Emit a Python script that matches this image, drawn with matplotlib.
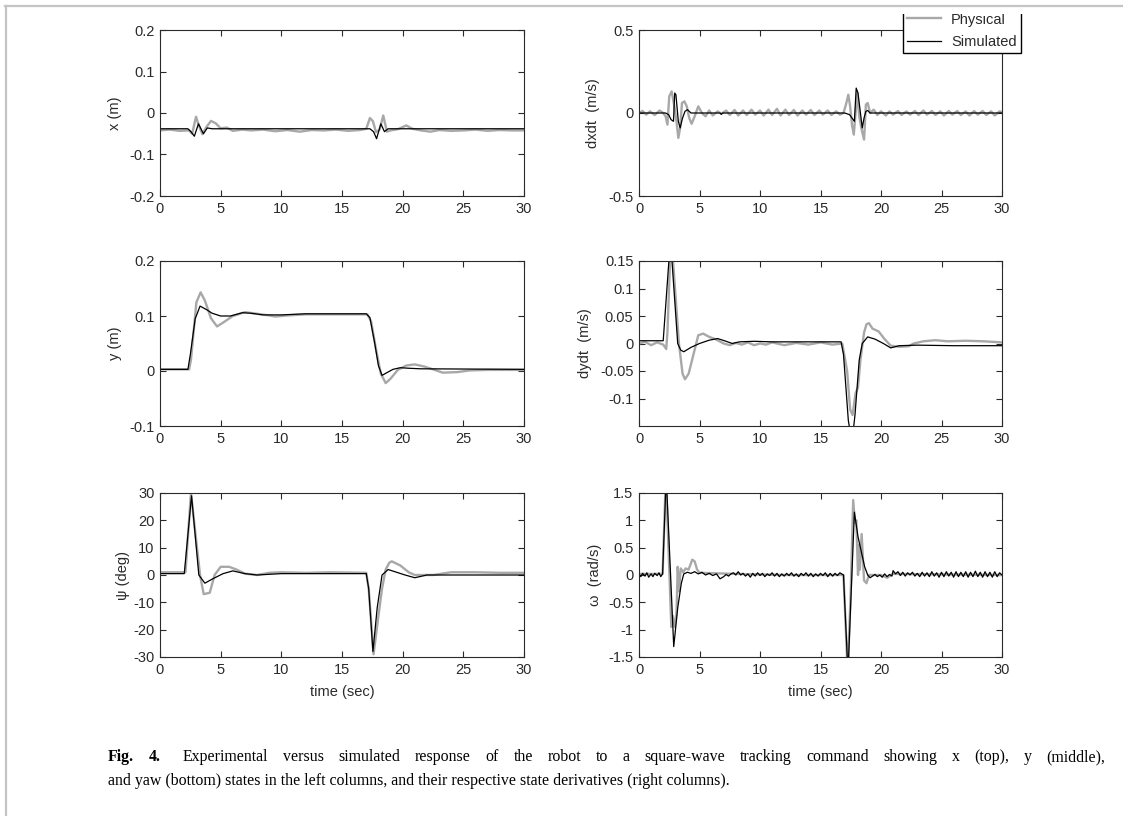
import matplotlib.pyplot as plt
from matplotlib.patches import Rectangle
from matplotlib.lines import Line2D

plt.rcParams['font.family'] = ['Liberation Sans', 'DejaVu Sans']

# (time, value) pairs
x_phys = [(0, -0.042), (0.8, -0.04), (1.6, -0.043), (2.4, -0.042), (2.65, -0.05), (2.97, -0.009),
          (3.2, -0.03), (3.5, -0.051), (3.8, -0.035), (4.2, -0.019), (4.6, -0.025), (5.0, -0.037),
          (5.5, -0.035), (6.0, -0.043), (6.8, -0.04), (7.5, -0.042), (8.5, -0.04), (9.5, -0.044),
          (10.5, -0.041), (11.5, -0.045), (12.5, -0.041), (13.5, -0.042), (14.5, -0.04), (15.5, -0.043),
          (16.5, -0.041), (17.0, -0.038), (17.3, -0.012), (17.55, -0.02), (17.8, -0.046), (18.1, -0.04),
          (18.4, -0.006), (18.7, -0.045), (19.0, -0.042), (19.6, -0.039), (20.3, -0.03), (20.8, -0.038),
          (21.5, -0.042), (22.3, -0.045), (23.0, -0.041), (24.0, -0.043), (25.0, -0.042), (26.0, -0.04),
          (27.0, -0.043), (28.0, -0.041), (29.0, -0.042), (30.0, -0.042)]
x_sim = [(0, -0.038), (2.3, -0.038), (2.55, -0.045), (2.83, -0.056), (3.17, -0.026), (3.58, -0.05),
         (3.9, -0.036), (4.3, -0.038), (17.3, -0.038), (17.6, -0.045), (17.85, -0.062), (18.2, -0.026),
         (18.5, -0.045), (18.8, -0.038), (30, -0.038)]

dx_phys = [(0, 0.0), (0.3, 0.012), (0.6, -0.01), (0.9, 0.01), (1.3, -0.012), (1.7, 0.015), (2.0, 0.0),
           (2.2, -0.02), (2.35, -0.07), (2.5, 0.1), (2.7, 0.13), (2.9, 0.05), (3.1, -0.05), (3.25, -0.15),
           (3.4, -0.09), (3.55, 0.06), (3.75, 0.07), (3.95, 0.04), (4.15, -0.03), (4.35, -0.065), (4.6, -0.02),
           (4.9, 0.04), (5.2, 0.0), (5.5, -0.02), (5.8, 0.015), (6.1, -0.015), (6.5, 0.01), (6.8, -0.005),
           (7.2, 0.015), (7.5, -0.012), (7.9, 0.018), (8.2, -0.015), (8.6, 0.015), (8.9, -0.012), (9.3, 0.02),
           (9.6, -0.01), (10.0, 0.015), (10.3, -0.015), (10.7, 0.02), (11.0, -0.012), (11.4, 0.025),
           (11.7, -0.015), (12.1, 0.02), (12.4, -0.012), (12.8, 0.018), (13.1, -0.015), (13.5, 0.015),
           (13.8, -0.01), (14.2, 0.018), (14.5, -0.012), (14.9, 0.015), (15.2, -0.01), (15.6, 0.015),
           (15.9, -0.012), (16.3, 0.01), (16.6, -0.01), (16.9, 0.0), (17.1, 0.05), (17.3, 0.11), (17.45, 0.04),
           (17.6, -0.07), (17.75, -0.13), (17.9, 0.0), (18.05, 0.12), (18.2, -0.02), (18.4, -0.1), (18.6, -0.16),
           (18.75, 0.05), (18.9, 0.06), (19.1, 0.0), (19.4, 0.02), (19.7, -0.012), (20.0, 0.01), (20.4, -0.015),
           (20.7, 0.01), (21.0, -0.01), (21.4, 0.012), (21.7, -0.012), (22.1, 0.01), (22.4, -0.01), (22.8, 0.012),
           (23.1, -0.012), (23.5, 0.015), (23.8, -0.01), (24.2, 0.012), (24.5, -0.012), (24.9, 0.01),
           (25.2, -0.015), (25.6, 0.012), (25.9, -0.01), (26.3, 0.012), (26.6, -0.012), (27.0, 0.01),
           (27.3, -0.015), (27.7, 0.012), (28.0, -0.01), (28.4, 0.012), (28.7, -0.012), (29.1, 0.01),
           (29.4, -0.015), (29.8, 0.01), (30, 0.005)]
dx_sim = [(0, 0.0), (2.2, 0.0), (2.45, -0.01), (2.65, -0.04), (2.85, -0.05), (2.95, 0.12), (3.05, 0.11),
          (3.25, -0.05), (3.4, -0.09), (3.6, -0.03), (3.8, 0.01), (4.0, 0.02), (4.3, 0.0), (6.7, 0.0),
          (6.8, -0.008), (6.9, 0.0), (17.0, 0.0), (17.4, -0.01), (17.6, -0.03), (17.8, -0.05), (17.95, 0.15),
          (18.1, 0.12), (18.3, 0.0), (18.45, -0.09), (18.6, -0.03), (18.75, 0.01), (18.9, 0.015), (19.1, 0.0),
          (30, 0.0)]

y_phys = [(0, 0.003), (2.4, 0.003), (2.55, 0.02), (3.0, 0.125), (3.35, 0.143), (3.7, 0.128), (4.2, 0.096),
          (4.7, 0.081), (5.2, 0.088), (6.0, 0.1), (7.0, 0.107), (8.0, 0.104), (9.0, 0.101), (9.5, 0.099),
          (10.5, 0.101), (12, 0.103), (14, 0.103), (17.1, 0.103), (17.4, 0.09), (17.8, 0.04), (18.2, -0.005),
          (18.6, -0.022), (19.0, -0.014), (19.6, 0.002), (20.3, 0.01), (21.0, 0.012), (21.8, 0.008),
          (22.5, 0.003), (23.3, -0.003), (24.5, -0.002), (25.5, 0.001), (27, 0.002), (30, 0.002)]
y_sim = [(0, 0.003), (2.3, 0.003), (2.5, 0.03), (2.9, 0.095), (3.3, 0.118), (3.8, 0.112), (4.3, 0.105),
         (5.0, 0.1), (5.8, 0.1), (6.8, 0.106), (7.5, 0.105), (8.5, 0.102), (10, 0.102), (12, 0.104),
         (17.0, 0.104), (17.3, 0.097), (17.7, 0.05), (18.0, 0.01), (18.3, -0.008), (18.7, -0.003),
         (19.2, 0.003), (19.8, 0.006), (20.5, 0.005), (21.5, 0.004), (30, 0.003)]

dy_phys = [(0, 0.0), (0.5, 0.003), (1.0, -0.003), (1.5, 0.002), (2.0, -0.002), (2.25, -0.01), (2.35, 0.02),
           (2.65, 0.2), (3.3, 0.0), (3.6, -0.055), (3.8, -0.065), (4.1, -0.055), (4.5, -0.02), (4.9, 0.015),
           (5.3, 0.018), (5.8, 0.012), (6.3, 0.008), (7.0, 0.0), (7.5, -0.003), (8.0, 0.001), (8.5, -0.002),
           (9.0, 0.002), (9.5, -0.003), (10.0, 0.0), (10.5, -0.002), (11.0, 0.002), (12.0, -0.003),
           (13.0, 0.001), (14.0, -0.002), (15.0, 0.002), (16.0, -0.002), (16.8, 0.0), (17.2, -0.05),
           (17.45, -0.12), (17.65, -0.13), (17.9, -0.09), (18.1, -0.08), (18.3, -0.03), (18.6, 0.02),
           (18.8, 0.035), (19.0, 0.037), (19.3, 0.027), (19.8, 0.022), (20.3, 0.008), (20.8, -0.004),
           (21.5, -0.006), (22.3, -0.005), (22.7, 0.0), (23.5, 0.004), (24.5, 0.006), (25.5, 0.004),
           (27, 0.005), (28.5, 0.004), (30, 0.002)]
dy_sim = [(0, 0.005), (2.0, 0.005), (2.6, 0.19), (3.2, 0.0), (3.45, -0.012), (3.7, -0.015), (4.3, -0.007),
          (5.0, 0.0), (5.8, 0.006), (6.5, 0.009), (7.2, 0.004), (7.7, 0.0), (8.3, 0.003), (9.5, 0.004),
          (11, 0.003), (13, 0.003), (15, 0.003), (16.7, 0.003), (16.9, -0.02), (17.3, -0.14), (17.6, -0.18),
          (17.85, -0.13), (18.2, -0.03), (18.45, 0.0), (18.9, 0.012), (19.5, 0.008), (20.2, 0.0),
          (20.8, -0.008), (21.5, -0.004), (23, -0.003), (26, -0.004), (30, -0.004)]

psi_phys = [(0, 1), (2.1, 1), (2.55, 30), (3.3, 0), (3.6, -7), (4.1, -6.5), (4.5, 0), (5.0, 3), (5.7, 3),
            (6.3, 2), (7.0, 0.5), (8.0, 0), (9.0, 0.8), (10, 1), (12, 0.8), (14, 1), (17.0, 0.8), (17.2, -5),
            (17.6, -29), (18.0, -15), (18.3, -5), (18.6, 2), (18.9, 4.5), (19.1, 5), (19.8, 3.5), (20.5, 1),
            (21.0, 0), (22.5, 0), (24, 1), (26, 1), (28, 0.8), (30, 0.8)]
psi_sim = [(0, 0.5), (2.0, 0.5), (2.6, 29), (3.2, 0), (3.7, -3), (4.3, -1.5), (5.2, 0.5), (6.0, 1.5),
           (7.0, 0.5), (8.0, 0), (10, 0.5), (17.0, 0.5), (17.2, -5), (17.55, -28), (17.9, -12), (18.3, 0),
           (18.8, 2), (19.5, 1), (20.2, 0), (21.0, -1), (22, 0), (30, 0)]

om_phys = [(0, 0.02), (1.95, 0.02), (2.22, 1.8), (2.55, -0.2), (2.67, -0.95), (2.8, -0.75), (2.95, -0.95),
           (3.1, -0.7), (3.2, 0.15), (3.3, -0.3), (3.45, 0.12), (3.65, 0.05), (3.85, 0.12), (4.1, 0.1),
           (4.4, 0.28), (4.6, 0.25), (4.8, 0.1), (5.0, 0.04), (8.0, 0.02), (12.0, 0.0), (16.9, 0.0),
           (17.25, -1.8), (17.5, -0.3), (17.7, 1.37), (17.85, 0.95), (17.96, 1.0), (18.1, 0.0), (18.2, 0.55),
           (18.25, 0.1), (18.4, 0.75), (18.6, -0.1), (18.8, -0.15), (19.0, 0.0), (20.0, 0.0), (20.5, -0.05),
           (21.0, 0.02), (30, 0.0)]
om_sim = [(0, 0.02), (0.15, -0.03), (0.3, 0.03), (0.5, -0.02), (0.65, 0.04), (0.8, -0.04), (1.0, 0.02),
          (1.15, -0.03), (1.3, 0.03), (1.5, -0.01), (1.65, 0.04), (1.8, -0.03), (1.95, 0.02), (2.25, 1.8),
          (2.87, -1.31), (3.2, -0.6), (3.5, -0.15), (3.7, 0.02), (4.0, 0.05), (4.3, 0.03), (4.6, 0.06),
          (4.9, 0.02), (5.2, 0.05), (5.5, 0.0), (5.8, 0.03), (6.1, -0.01), (6.4, 0.02), (6.7, -0.07),
          (7.0, -0.03), (7.2, 0.01), (7.4, -0.02), (7.6, 0.02), (7.8, 0.04), (8.0, 0.0), (8.2, 0.06), (8.4, 0.0),
          (8.6, 0.03), (8.8, -0.02), (9.0, 0.02), (9.2, -0.04), (9.4, 0.03), (9.6, -0.02), (9.8, 0.04),
          (10.0, -0.01), (10.2, 0.03), (10.4, -0.03), (10.6, 0.02), (10.8, -0.01), (11.0, 0.04), (11.2, -0.02),
          (11.4, 0.03), (11.6, -0.03), (11.8, 0.02), (12.0, -0.02), (12.2, 0.03), (12.4, -0.01), (12.6, 0.04),
          (12.8, -0.02), (13.0, 0.02), (13.2, -0.03), (13.4, 0.03), (13.6, -0.01), (13.8, 0.04), (14.0, -0.02),
          (14.2, 0.03), (14.4, -0.03), (14.6, 0.02), (14.8, -0.02), (15.0, 0.03), (15.2, -0.01), (15.4, 0.04),
          (15.6, -0.03), (15.8, 0.03), (16.0, -0.02), (16.2, 0.03), (16.4, -0.01), (16.6, 0.04), (16.9, 0.0),
          (17.27, -1.8), (17.8, 1.15), (18.1, 0.7), (18.4, 0.4), (18.65, 0.15), (18.9, 0.0), (19.1, -0.05),
          (19.3, -0.02), (19.5, 0.01), (19.7, -0.03), (19.9, 0.0), (20.1, -0.04), (20.3, 0.02), (20.5, -0.03),
          (20.7, 0.01), (20.9, -0.02), (21.0, 0.08), (21.2, 0.02), (21.4, 0.06), (21.6, -0.01), (21.8, 0.05),
          (22.0, -0.02), (22.2, 0.04), (22.4, 0.0), (22.6, 0.05), (22.8, -0.02), (23.0, 0.03), (23.2, -0.03),
          (23.4, 0.05), (23.6, -0.02), (23.8, 0.04), (24.0, -0.03), (24.2, 0.06), (24.4, -0.02), (24.6, 0.04),
          (24.8, -0.04), (25.0, 0.05), (25.2, -0.03), (25.4, 0.06), (25.6, -0.02), (25.8, 0.05), (26.0, -0.04),
          (26.2, 0.06), (26.4, -0.03), (26.6, 0.05), (26.8, -0.03), (27.0, 0.06), (27.2, -0.04), (27.4, 0.05),
          (27.6, -0.03), (27.8, 0.07), (28.0, -0.03), (28.2, 0.05), (28.4, -0.04), (28.6, 0.06), (28.8, -0.03),
          (29.0, 0.05), (29.2, -0.04), (29.4, 0.06), (29.6, -0.03), (29.8, 0.04), (30, 0.0)]

x_ticks = [0, 5, 10, 15, 20, 25, 30]

caption_line1 = ('Experimental versus simulated response of the robot to a square-wave tracking command '
                 'showing x (top), y (middle),')
caption_line2 = ('and yaw (bottom) states in the left columns, and their respective state derivatives '
                 '(right columns).')

W, H = 1123, 816
fig = plt.figure(figsize=(W / 100, H / 100), dpi=100)
fig.patch.set_facecolor('white')

GRAY = '#a8a8a8'
DARK = '#2a2a2a'

# left, top, right, bottom (pixels), series, ylabel, ylim, yticks, labels, label x-offset, xlabel
panels = [
    (160, 30, 524, 196, x_phys, x_sim, 'x (m)', (-0.2, 0.2),
     [-0.2, -0.1, 0, 0.1, 0.2], ['-0.2', '-0.1', '0', '0.1', '0.2'], -0.104, False),
    (639, 30, 1002, 196, dx_phys, dx_sim, 'dxdt  (m/s)', (-0.5, 0.5),
     [-0.5, 0, 0.5], ['-0.5', '0', '0.5'], -0.107, False),
    (160, 261, 524, 426, y_phys, y_sim, 'y (m)', (-0.1, 0.2),
     [-0.1, 0, 0.1, 0.2], ['-0.1', '0', '0.1', '0.2'], -0.104, False),
    (639, 261, 1002, 426, dy_phys, dy_sim, 'dydt  (m/s)', (-0.15, 0.15),
     [-0.1, -0.05, 0, 0.05, 0.1, 0.15], ['-0.1', '-0.05', '0', '0.05', '0.1', '0.15'], -0.129, False),
    (160, 493, 524, 657, psi_phys, psi_sim, 'ψ (deg)', (-30, 30),
     [-30, -20, -10, 0, 10, 20, 30], ['-30', '-20', '-10', '0', '10', '20', '30'], -0.082, True),
    (639, 493, 1002, 657, om_phys, om_sim, 'ω  (rad/s)', (-1.5, 1.5),
     [-1.5, -1, -0.5, 0, 0.5, 1, 1.5], ['-1.5', '-1', '-0.5', '0', '0.5', '1', '1.5'], -0.102, True),
]

axes = []
for (l, t, r, b, phys, sim, ylab, ylim, yt, ytl, lx, has_xlabel) in panels:
    ax = fig.add_axes([l / W, 1 - b / H, (r - l) / W, (b - t) / H])
    tp, vp = zip(*phys)
    ts, vs = zip(*sim)
    ax.plot(tp, vp, color=GRAY, lw=1.7, label='Physical')
    ax.plot(ts, vs, color='black', lw=0.9, label='Simulated')
    ax.set_xlim(0, 30)
    ax.set_ylim(*ylim)
    ax.set_xticks(x_ticks)
    ax.set_xticklabels([str(v) for v in x_ticks])
    ax.set_yticks(yt)
    ax.set_yticklabels(ytl)
    ax.tick_params(direction='in', top=True, right=True, length=4, width=0.8,
                   labelsize=10.5, colors=DARK, pad=4)
    for s in ax.spines.values():
        s.set_color(DARK)
        s.set_linewidth(0.8)
    ax.set_ylabel(ylab, fontsize=10.5, color=DARK)
    ax.yaxis.set_label_coords(lx, 0.5)
    if has_xlabel:
        ax.set_xlabel('time (sec)', fontsize=10.5, color=DARK)
        ax.xaxis.set_label_coords(0.5, -0.17)
    axes.append(ax)

leg = axes[1].legend(loc='lower right', bbox_to_anchor=(1021 / W, 1 - 53 / H),
                     bbox_transform=fig.transFigure, fancybox=False, edgecolor='black',
                     fontsize=10.5, handlelength=2.3, handletextpad=0.7, borderpad=0.3,
                     labelspacing=0.55, borderaxespad=0, framealpha=1)
leg.get_frame().set_linewidth(1.0)
for txt in leg.get_texts():
    txt.set_color(DARK)

# page border as in the scanned figure
fig.add_artist(Rectangle((0, 1 - 14 / H), 1, 14 / H, transform=fig.transFigure,
                         facecolor='white', edgecolor='none', zorder=5))
fig.add_artist(Line2D([5 / W, 1], [1 - 6 / H, 1 - 6 / H], transform=fig.transFigure,
                      color='#c4c4c4', lw=1.6, zorder=6))
fig.add_artist(Line2D([6 / W, 6 / W], [0, 1 - 6 / H], transform=fig.transFigure,
                      color='#c4c4c4', lw=1.6, zorder=6))

# caption: first line justified between x=108 and x=1098, second line left aligned
renderer = fig.canvas.get_renderer()
cap_size = 11.4
cap_font = 'Liberation Serif'
x_left, x_right = 108, 1098
y1, y2 = 1 - 761 / H, 1 - 785 / H

words = [('Fig.', 'bold'), ('4.', 'bold')] + [(w, 'normal') for w in caption_line1.split()]
arts = []
for w, weight in words:
    arts.append(fig.text(0, y1, w, family=cap_font, fontweight=weight, fontsize=cap_size, va='baseline'))
widths = [a.get_window_extent(renderer).width for a in arts]
gap = (x_right - x_left - sum(widths)) / (len(arts) - 1)
x = x_left
for i, (a, wd) in enumerate(zip(arts, widths)):
    a.set_x(x / W)
    x += wd + gap + (gap * 0.5 if i == 1 else 0)

fig.text(x_left / W, y2, caption_line2, family=cap_font, fontsize=cap_size, va='baseline')

fig.savefig('out.png', dpi=100)
